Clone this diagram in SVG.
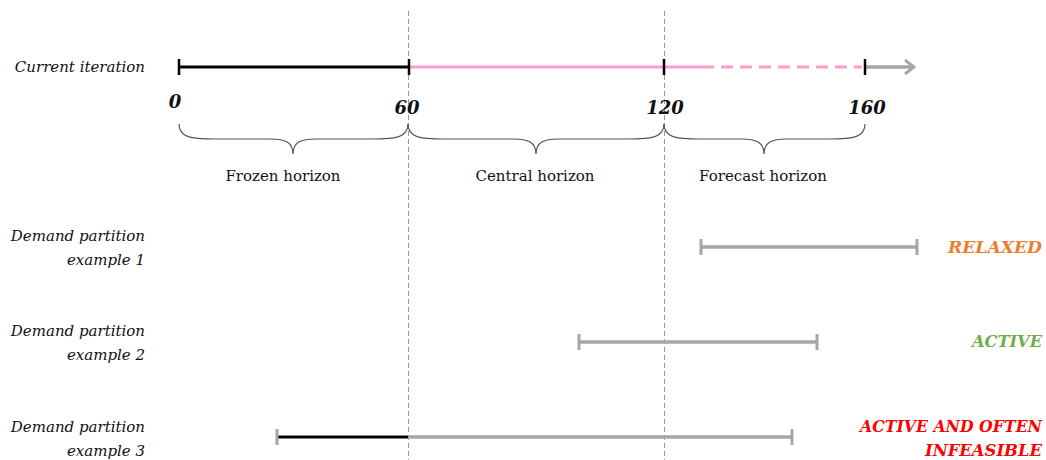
<svg xmlns="http://www.w3.org/2000/svg" width="1046" height="460" viewBox="0 0 1046 460">
  <style>
    .lbl { font-family: "DejaVu Serif", "Liberation Serif", serif; font-style: italic; font-size: 15px; fill: #111; text-anchor: end; }
    .num { font-family: "DejaVu Serif", "Liberation Serif", serif; font-style: italic; font-weight: bold; font-size: 18px; fill: #111; text-anchor: middle; }
    .hz { font-family: "DejaVu Serif", "Liberation Serif", serif; font-size: 15px; fill: #111; text-anchor: middle; }
    .st { font-family: "DejaVu Serif", "Liberation Serif", serif; font-style: italic; font-weight: bold; font-size: 16px; text-anchor: end; }
    .guide { stroke: #9a9a9a; stroke-width: 1; stroke-dasharray: 5 3; fill: none; }
    .brace { stroke: #555; stroke-width: 1.2; fill: none; }
    .blk { stroke: #000; stroke-width: 3; fill: none; }
    .pink { stroke: #ff9acd; stroke-width: 3; fill: none; }
    .gray { stroke: #a6a6a6; stroke-width: 3.5; fill: none; }
    .tick { stroke: #000; stroke-width: 2.5; }
    .gtick { stroke: #a6a6a6; stroke-width: 3; }
  </style>
  <defs>
    <marker id="chev" viewBox="0 0 12 16" refX="10" refY="8" markerWidth="12" markerHeight="16" markerUnits="userSpaceOnUse" orient="auto">
      <path d="M1,1 L10,8 L1,15" fill="none" stroke="#a6a6a6" stroke-width="3"/>
    </marker>
  </defs>
  <rect width="1046" height="460" fill="#fff"/>

  <!-- horizon boundaries -->
  <g id="guides">
    <line class="guide" x1="408.5" y1="11" x2="408.5" y2="460"/>
    <line class="guide" x1="664.5" y1="11" x2="664.5" y2="460"/>
  </g>

  <!-- current iteration timeline -->
  <g id="timeline">
    <text class="lbl" x="145" y="72">Current iteration</text>
    <line class="blk" x1="179" y1="67" x2="409" y2="67"/>
    <line class="pink" x1="409" y1="67" x2="714" y2="67"/>
    <line class="pink" x1="714" y1="67" x2="862" y2="67" stroke-dasharray="12 7" stroke-dashoffset="12"/>
    <line class="gray" x1="866" y1="67" x2="914" y2="67" stroke-width="3" marker-end="url(#chev)"/>
    <line class="tick" x1="179" y1="59" x2="179" y2="75"/>
    <line class="tick" x1="409" y1="59" x2="409" y2="75"/>
    <line class="tick" x1="664" y1="59" x2="664" y2="75"/>
    <line class="tick" x1="865" y1="59" x2="865" y2="75"/>
    <text class="num" x="175" y="108">0</text>
    <text class="num" x="407" y="114">60</text>
    <text class="num" x="665" y="114">120</text>
    <text class="num" x="867" y="114">160</text>
  </g>

  <!-- horizon braces -->
  <g id="frozen">
    <path class="brace" d="M179,124 C179,137 190,139 215,139 L270,139 C285,139 293,142 293,154 C293,142 301,139 316,139 L372,139 C397,139 408,137 408,124"/>
    <text class="hz" x="283" y="181">Frozen horizon</text>
  </g>
  <g id="central">
    <path class="brace" d="M408,124 C408,137 419,139 444,139 L513,139 C528,139 536,142 536,154 C536,142 544,139 559,139 L628,139 C653,139 664,137 664,124"/>
    <text class="hz" x="535" y="181">Central horizon</text>
  </g>
  <g id="forecast">
    <path class="brace" d="M664,124 C664,137 675,139 700,139 L741,139 C756,139 764,142 764,154 C764,142 772,139 787,139 L829,139 C854,139 865,137 865,124"/>
    <text class="hz" x="763" y="181">Forecast horizon</text>
  </g>

  <!-- demand partition examples -->
  <g id="example1">
    <text class="lbl" x="145" y="241">Demand partition</text>
    <text class="lbl" x="145" y="265">example 1</text>
    <line class="gray" x1="701" y1="247" x2="917" y2="247"/>
    <line class="gtick" x1="701" y1="239" x2="701" y2="255"/>
    <line class="gtick" x1="917" y1="239" x2="917" y2="255"/>
    <text class="st" x="1042" y="253" fill="#ed7d31" textLength="94" lengthAdjust="spacingAndGlyphs">RELAXED</text>
  </g>
  <g id="example2">
    <text class="lbl" x="145" y="336">Demand partition</text>
    <text class="lbl" x="145" y="360">example 2</text>
    <line class="gray" x1="579" y1="342" x2="817" y2="342"/>
    <line class="gtick" x1="579" y1="334" x2="579" y2="350"/>
    <line class="gtick" x1="817" y1="334" x2="817" y2="350"/>
    <text class="st" x="1042" y="347" fill="#70ad47" textLength="70" lengthAdjust="spacingAndGlyphs">ACTIVE</text>
  </g>
  <g id="example3">
    <text class="lbl" x="145" y="432">Demand partition</text>
    <text class="lbl" x="145" y="456">example 3</text>
    <line class="gray" x1="408" y1="437" x2="792" y2="437"/>
    <line class="blk" x1="278" y1="437" x2="408" y2="437"/>
    <line class="gtick" x1="277" y1="429" x2="277" y2="445"/>
    <line class="gtick" x1="792" y1="429" x2="792" y2="445"/>
    <text class="st" x="1042" y="432" fill="#ff0000" textLength="182" lengthAdjust="spacingAndGlyphs">ACTIVE AND OFTEN</text>
    <text class="st" x="1042" y="456" fill="#ff0000" textLength="117" lengthAdjust="spacingAndGlyphs">INFEASIBLE</text>
  </g>
</svg>
